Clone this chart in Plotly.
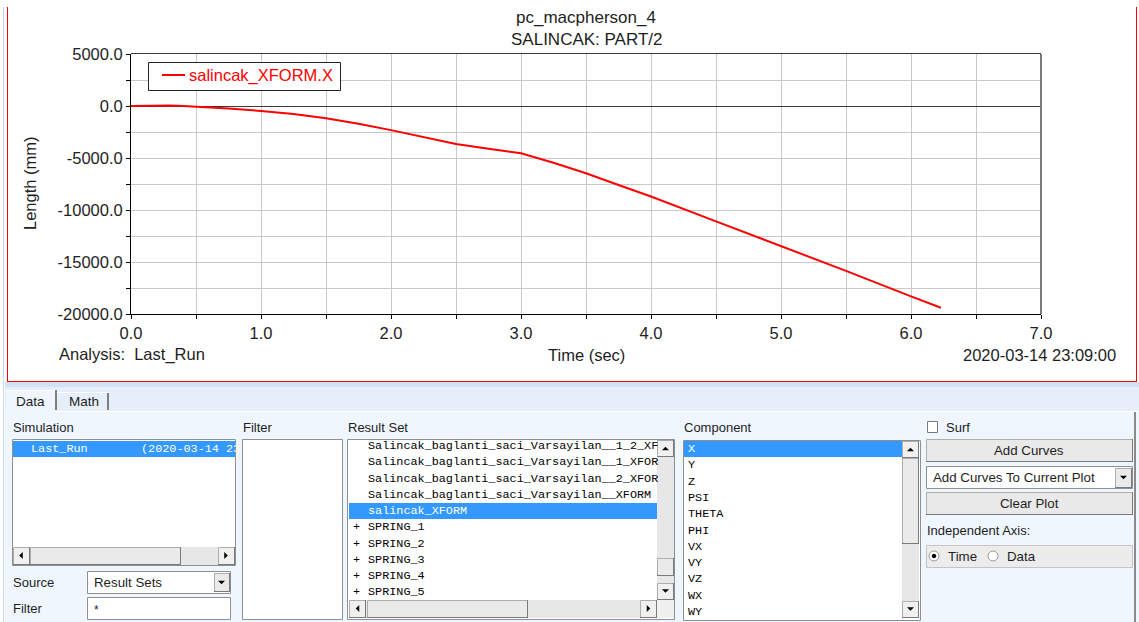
import plotly.graph_objects as go

# ---------------- data ----------------
time_s = [0.0, 0.1, 0.2, 0.3, 0.4, 0.5, 0.75, 1.0, 1.25, 1.5, 1.75, 2.0, 2.25,
          2.5, 2.75, 3.0, 3.25, 3.5, 3.75, 4.0, 4.5, 5.0, 5.5, 6.0, 6.23]
x_disp_mm = [0, 40, 70, 60, 10, -60, -250, -480, -780, -1180, -1700, -2320, -3000,
             -3650, -4100, -4550, -5450, -6470, -7600, -8700, -11100, -13450,
             -15850, -18300, -19400]
series_name = "salincak_XFORM.X"

x_ticks = [0, 1, 2, 3, 4, 5, 6, 7]
x_tick_labels = ["0.0", "1.0", "2.0", "3.0", "4.0", "5.0", "6.0", "7.0"]
y_ticks = [5000, 0, -5000, -10000, -15000, -20000]
y_tick_labels = ["5000.0", "0.0", "-5000.0", "-10000.0", "-15000.0", "-20000.0"]

title_lines = ["pc_macpherson_4", "SALINCAK: PART/2"]
analysis_text = "Analysis:\u00a0 Last_Run"
date_text = "2020-03-14 23:09:00"

simulation_items = [("Last_Run", "(2020-03-14 23")]
result_set_items = ["Salincak_baglanti_saci_Varsayilan__1_2_XF",
                    "Salincak_baglanti_saci_Varsayilan__1_XFOR",
                    "Salincak_baglanti_saci_Varsayilan__2_XFOR",
                    "Salincak_baglanti_saci_Varsayilan__XFORM",
                    "salincak_XFORM",
                    "+ SPRING_1", "+ SPRING_2", "+ SPRING_3", "+ SPRING_4", "+ SPRING_5"]
result_selected = 4
component_items = ["X", "Y", "Z", "PSI", "THETA", "PHI", "VX", "VY", "VZ", "WX", "WY"]
component_selected = 0

# ---------------- pixel -> paper helpers ----------------
FW, FH = 1139, 622
L, R, T, B = 131, 1041, 54, 314
W, H = R - L, B - T


def P(x):
    return (x - L) / W


def Q(y):
    return (B - y) / H


SANS = "Liberation Sans, Arial, sans-serif"
MONO = "Liberation Mono, Courier New, monospace"
TXT = "#1e1e1e"
LIST_TXT = "#000000"
SEL = "#3399FF"

shapes = []
annotations = []


def rect(x0, y0, x1, y1, fill, line=None, lw=1):
    if line:
        x0, y0, x1, y1 = x0 + 0.5, y0 + 0.5, x1 - 0.5, y1 - 0.5
    shapes.append(dict(type="rect", xref="paper", yref="paper",
                       x0=P(x0), x1=P(x1), y0=Q(y1), y1=Q(y0),
                       fillcolor=fill,
                       line=dict(color=line if line else fill, width=lw if line else 0),
                       layer="above"))


def hline(x0, x1, y, color, w=1):
    yy = y + 0.5 if w == 1 else y
    shapes.append(dict(type="line", xref="paper", yref="paper",
                       x0=P(x0), x1=P(x1), y0=Q(yy), y1=Q(yy),
                       line=dict(color=color, width=w), layer="above"))


def vline(x, y0, y1, color, w=1):
    xx = x + 0.5 if w == 1 else x
    shapes.append(dict(type="line", xref="paper", yref="paper",
                       x0=P(xx), x1=P(xx), y0=Q(y0), y1=Q(y1),
                       line=dict(color=color, width=w), layer="above"))


def tri(cx, cy, d, s=3.5, color="#000000"):
    if d == "up":
        pts = [(cx - s, cy + s / 2), (cx + s, cy + s / 2), (cx, cy - s / 2)]
    elif d == "down":
        pts = [(cx - s, cy - s / 2), (cx + s, cy - s / 2), (cx, cy + s / 2)]
    elif d == "left":
        pts = [(cx + s / 2, cy - s), (cx + s / 2, cy + s), (cx - s / 2, cy)]
    else:
        pts = [(cx - s / 2, cy - s), (cx - s / 2, cy + s), (cx + s / 2, cy)]
    path = "M" + " L".join(f"{P(a):.6f},{Q(b):.6f}" for a, b in pts) + " Z"
    shapes.append(dict(type="path", xref="paper", yref="paper", path=path,
                       fillcolor=color, line=dict(width=0), layer="above"))


def circle(cx, cy, r, fill, line):
    shapes.append(dict(type="circle", xref="paper", yref="paper",
                       x0=P(cx - r), x1=P(cx + r), y0=Q(cy + r), y1=Q(cy - r),
                       fillcolor=fill, line=dict(color=line, width=1), layer="above"))


def txt(x, y, s, size=13, color=TXT, family=SANS, anchor="left", angle=0):
    annotations.append(dict(x=P(x), y=Q(y), xref="paper", yref="paper", text=s,
                            showarrow=False, xanchor=anchor, yanchor="middle",
                            textangle=angle, borderpad=0,
                            font=dict(size=size, color=color, family=family)))


def button(x0, y0, x1, y1, fill="#E9E9E9"):
    rect(x0, y0, x1, y1, fill, "#ADADAD", 1)
    hline(x0, x1, y1 - 1, "#7A7A7A", 1)
    vline(x1 - 1, y0, y1, "#7A7A7A", 1)


# ---------------- figure ----------------
fig = go.Figure()
fig.add_trace(go.Scatter(x=time_s, y=x_disp_mm, mode="lines", name=series_name,
                         line=dict(color="#FF0000", width=2), showlegend=False))

# plot-window frame
vline(3, 7, 622, "#C5D9F1", 1)
vline(7, 7, 381, "#FF0000", 1)
vline(1136, 7, 381, "#FF0000", 1)
hline(7, 1137, 381, "#FF0000", 1)

# chart border (top / right)
hline(L, R, T - 1, "#3a3a3a", 1)
vline(R, T, B, "#7b7b7b", 2)

# legend box (drawn like the original application's legend)
rect(148, 62, 341, 91, "#FFFFFF", "#222222", 1)
hline(162, 185, 75, "#FF0000", 2)
txt(188, 75.5, series_name, 16.5, "#FF0000")

# chart texts
txt(586, 17, title_lines[0], 17, anchor="center")
txt(586, 40, title_lines[1], 17, anchor="center")
txt(30, 183, "Length (mm)", 16.5, anchor="center", angle=-90)
txt(586, 355, "Time (sec)", 16.5, anchor="center")
txt(58, 355, analysis_text, 16.5)
txt(1117, 355, date_text, 16.5, anchor="right")

# ---------------- lower panel ----------------
rect(5, 382, 1139, 411, "#E6EFF9")
rect(5, 382, 1139, 387, "#D3E3F4")
rect(5, 411, 1139, 622, "#EFF6FE")
hline(5, 1139, 411, "#FFFFFF", 1)
vline(1135, 412, 622, "#8A8A8A", 2)

# tabs
rect(6, 390, 56, 412, "#EFF6FE")
hline(6, 56, 390, "#FFFFFF", 1)
vline(56, 390, 410, "#7F7F7F", 2)
vline(108, 393, 410, "#7F7F7F", 2)
hline(57, 108, 392, "#FFFFFF", 1)
txt(30.5, 401, "Data", 13.5, anchor="center")
txt(83.5, 401.5, "Math", 13.5, anchor="center")

# simulation list
txt(12, 427, "Simulation", 13)
rect(12, 439, 236, 566, "#FFFFFF", "#8E8F8F", 1)
rect(13, 441, 235, 457, SEL)
for i, (nm, dt) in enumerate(simulation_items):
    txt(30, 449 + i * 16.3, nm, 11.8, "#FFFFFF", MONO)
    txt(140, 449 + i * 16.3, dt, 11.8, "#FFFFFF", MONO)
rect(13, 547, 235, 565, "#E7E7E7")
button(13, 547, 30, 565, "#F0F0F0")
tri(21, 555.5, "left")
button(30, 547, 181, 565, "#EAEAEA")
button(218, 547, 235, 565, "#F0F0F0")
tri(226, 555.5, "right")

txt(12, 582, "Source", 13)
rect(87, 571, 231, 594, "#FFFFFF", "#8E8F8F", 1)
txt(93, 582, "Result Sets", 13.3)
button(214, 573, 230, 592, "#EAEAEA")
tri(221.5, 582.5, "down")
txt(12, 608, "Filter", 13)
rect(87, 597, 231, 620, "#FFFFFF", "#8E8F8F", 1)
txt(93, 610, "*", 12)

# filter list
txt(242, 427, "Filter", 13)
rect(242, 439, 343, 620, "#FFFFFF", "#8E8F8F", 1)

# result set list
txt(347, 427, "Result Set", 13)
rect(347, 439, 675, 620, "#FFFFFF", "#8E8F8F", 1)
rect(349, 503, 657, 519, SEL)
for i, item in enumerate(result_set_items):
    yy = 446 + i * 16.25
    col = "#FFFFFF" if i == result_selected else LIST_TXT
    if item.startswith("+ "):
        txt(352, yy, "+", 11.8, col, MONO)
        txt(367, yy, item[2:], 11.8, col, MONO)
    else:
        txt(367, yy, item, 11.8, col, MONO)
rect(657, 440, 674, 600, "#E7E7E7")
button(657, 440, 674, 457, "#F0F0F0")
tri(665.5, 448.5, "up")
button(657, 558, 674, 576, "#EAEAEA")
button(657, 583, 674, 600, "#F0F0F0")
tri(665.5, 591, "down")
rect(349, 600, 657, 618, "#E7E7E7")
button(349, 600, 366, 618, "#F0F0F0")
tri(357.5, 608.5, "left")
button(367, 600, 528, 618, "#EAEAEA")
button(640, 600, 657, 618, "#F0F0F0")
tri(648.5, 608.5, "right")
rect(657, 600, 674, 618, "#F0F0F0")

# component list
txt(683, 427, "Component", 13)
rect(683, 440, 921, 621, "#FFFFFF", "#8E8F8F", 1)
rect(684, 441, 902, 457, SEL)
for i, item in enumerate(component_items):
    col = "#FFFFFF" if i == component_selected else LIST_TXT
    txt(687, 449 + i * 16.3, item, 11.8, col, MONO)
rect(902, 441, 919, 618, "#E7E7E7")
button(902, 441, 919, 458, "#F0F0F0")
tri(910.5, 449.5, "up")
button(902, 458, 919, 544, "#EAEAEA")
button(902, 601, 919, 618, "#F0F0F0")
tri(910.5, 609, "down")

# right controls
rect(927, 421, 938, 433, "#FFFFFF", "#7A7A7A", 1)
txt(945, 427, "Surf", 13)
button(926, 439, 1133, 462, "#E9E9E9")
txt(1029, 450, "Add Curves", 13.3, anchor="center")
rect(926, 466, 1133, 489, "#FFFFFF", "#8E8F8F", 1)
txt(932, 477.5, "Add Curves To Current Plot", 13.3)
button(1115, 468, 1132, 488, "#EAEAEA")
tri(1123.5, 477.5, "down")
button(926, 492, 1133, 515, "#E9E9E9")
txt(1029, 503, "Clear Plot", 13.3, anchor="center")
txt(926, 530, "Independent Axis:", 13)
rect(926, 545, 1133, 568, "#ECECEC", "#C4C4C4", 1)
circle(934, 556, 5, "#FFFFFF", "#9A9A9A")
circle(934, 556, 1.8, "#000000", "#000000")
txt(947, 556, "Time", 13.3)
circle(993, 556, 5, "#FFFFFF", "#9A9A9A")
txt(1006, 556, "Data", 13.3)

GRID = "#C9C9C9"
fig.update_layout(
    width=FW, height=FH,
    margin=dict(l=L, r=FW - R, t=T, b=FH - B, pad=0),
    paper_bgcolor="#FFFFFF", plot_bgcolor="#FFFFFF",
    font=dict(family=SANS, size=16.5, color=TXT),
    showlegend=False,
    xaxis=dict(range=[0, 7], tickvals=x_ticks, ticktext=x_tick_labels,
               ticks="outside", ticklen=4, tickcolor="#000000",
               showline=True, linecolor="#000000", linewidth=1,
               showgrid=True, gridcolor=GRID, gridwidth=1, zeroline=False,
               minor=dict(dtick=0.5, tick0=0, showgrid=True, gridcolor=GRID,
                          gridwidth=1, ticks="outside", ticklen=4, tickcolor="#000000"),
               tickfont=dict(size=16.5, color=TXT, family=SANS), fixedrange=True),
    yaxis=dict(range=[-20000, 5000], tickvals=y_ticks, ticktext=y_tick_labels,
               ticks="outside", ticklen=4, tickcolor="#000000",
               showline=True, linecolor="#000000", linewidth=1,
               showgrid=True, gridcolor=GRID, gridwidth=1,
               zeroline=True, zerolinecolor="#3a3a3a", zerolinewidth=1,
               minor=dict(dtick=2500, tick0=0, showgrid=True, gridcolor=GRID,
                          gridwidth=1, ticks="outside", ticklen=4, tickcolor="#000000"),
               tickfont=dict(size=16.5, color=TXT, family=SANS), fixedrange=True),
    shapes=shapes,
    annotations=annotations,
)

fig.write_html("out.html", config={"displayModeBar": False})
